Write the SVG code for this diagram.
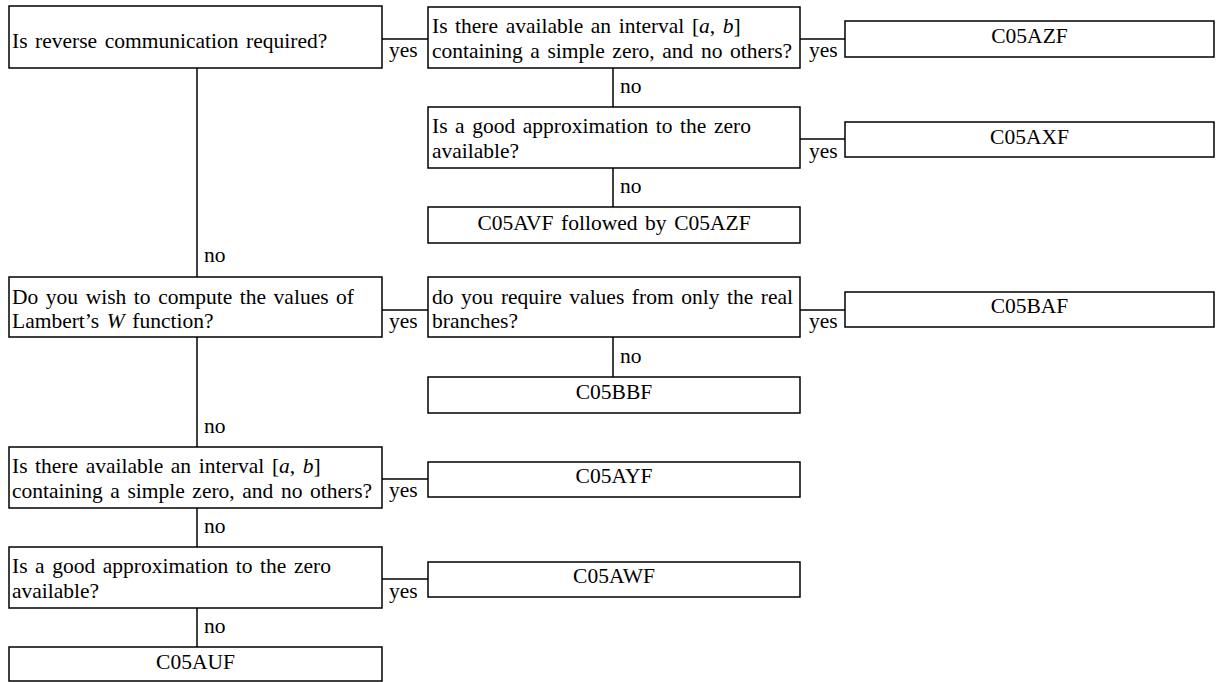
<svg xmlns="http://www.w3.org/2000/svg" width="1217" height="682" viewBox="0 0 1217 682">
<style>
  .box { fill: #ffffff; stroke: #000000; stroke-width: 1.5; }
  .conn { fill: none; stroke: #000000; stroke-width: 1.5; }
  text { font-family: "Liberation Serif", "Times New Roman", serif; font-size: 21.5px; fill: #000000; word-spacing: 2.2px; }
  .c { text-anchor: middle; }
  .i { font-style: italic; }
</style>
<rect x="0" y="0" width="1217" height="682" fill="#ffffff"/>
<g id="connectors">
  <line class="conn" x1="382" y1="39" x2="428" y2="39"/>
  <line class="conn" x1="800" y1="39" x2="845" y2="39"/>
  <line class="conn" x1="613" y1="68" x2="613" y2="107"/>
  <line class="conn" x1="800" y1="139" x2="845" y2="139"/>
  <line class="conn" x1="613" y1="168" x2="613" y2="207"/>
  <line class="conn" x1="197" y1="68" x2="197" y2="277"/>
  <line class="conn" x1="382" y1="310" x2="428" y2="310"/>
  <line class="conn" x1="800" y1="310" x2="845" y2="310"/>
  <line class="conn" x1="613" y1="337" x2="613" y2="377"/>
  <line class="conn" x1="197" y1="337" x2="197" y2="447"/>
  <line class="conn" x1="382" y1="479" x2="428" y2="479"/>
  <line class="conn" x1="197" y1="508" x2="197" y2="547"/>
  <line class="conn" x1="382" y1="579" x2="428" y2="579"/>
  <line class="conn" x1="197" y1="608" x2="197" y2="647"/>
  <text x="389" y="57">yes</text>
  <text x="809" y="57">yes</text>
  <text x="620" y="93">no</text>
  <text x="809" y="158">yes</text>
  <text x="620" y="193">no</text>
  <text x="204" y="262">no</text>
  <text x="389" y="328">yes</text>
  <text x="809" y="328">yes</text>
  <text x="620" y="363">no</text>
  <text x="204" y="433">no</text>
  <text x="389" y="497">yes</text>
  <text x="204" y="533">no</text>
  <text x="389" y="598">yes</text>
  <text x="204" y="633">no</text>
</g>
<g id="q-reverse">
  <rect class="box" x="9" y="6" width="373" height="62"/>
  <text x="12" y="48">Is reverse communication required?</text>
</g>
<g id="q-interval1">
  <rect class="box" x="428" y="7" width="372" height="61"/>
  <text x="432" y="33">Is there available an interval [<tspan class="i">a</tspan>, <tspan class="i">b</tspan>]</text>
  <text x="432" y="57.5">containing a simple zero, and no others?</text>
</g>
<g id="r-c05azf">
  <rect class="box" x="845" y="21" width="369" height="36"/>
  <text class="c" x="1029.5" y="43">C05AZF</text>
</g>
<g id="q-approx1">
  <rect class="box" x="428" y="107" width="372" height="61"/>
  <text x="432" y="133">Is a good approximation to the zero</text>
  <text x="432" y="157.5">available?</text>
</g>
<g id="r-c05axf">
  <rect class="box" x="845" y="122" width="369" height="35"/>
  <text class="c" x="1029.5" y="144">C05AXF</text>
</g>
<g id="r-c05avf">
  <rect class="box" x="428" y="207" width="372" height="36"/>
  <text class="c" x="614" y="229.5">C05AVF followed by C05AZF</text>
</g>
<g id="q-lambert">
  <rect class="box" x="9" y="277" width="373" height="60"/>
  <text x="12" y="303.5">Do you wish to compute the values of</text>
  <text x="12" y="328">Lambert’s <tspan class="i">W</tspan> function?</text>
</g>
<g id="q-real">
  <rect class="box" x="428" y="277" width="372" height="60"/>
  <text x="432" y="303.5">do you require values from only the real</text>
  <text x="432" y="328">branches?</text>
</g>
<g id="r-c05baf">
  <rect class="box" x="845" y="292" width="369" height="35"/>
  <text class="c" x="1029.5" y="313">C05BAF</text>
</g>
<g id="r-c05bbf">
  <rect class="box" x="428" y="377" width="372" height="36"/>
  <text class="c" x="614" y="399">C05BBF</text>
</g>
<g id="q-interval2">
  <rect class="box" x="9" y="447" width="373" height="61"/>
  <text x="12" y="473">Is there available an interval [<tspan class="i">a</tspan>, <tspan class="i">b</tspan>]</text>
  <text x="12" y="497.5">containing a simple zero, and no others?</text>
</g>
<g id="r-c05ayf">
  <rect class="box" x="428" y="462" width="372" height="35"/>
  <text class="c" x="614" y="483">C05AYF</text>
</g>
<g id="q-approx2">
  <rect class="box" x="9" y="547" width="373" height="61"/>
  <text x="12" y="573">Is a good approximation to the zero</text>
  <text x="12" y="597.5">available?</text>
</g>
<g id="r-c05awf">
  <rect class="box" x="428" y="562" width="372" height="35"/>
  <text class="c" x="614" y="583">C05AWF</text>
</g>
<g id="r-c05auf">
  <rect class="box" x="9" y="647" width="373" height="34"/>
  <text class="c" x="195.5" y="669">C05AUF</text>
</g>
</svg>
